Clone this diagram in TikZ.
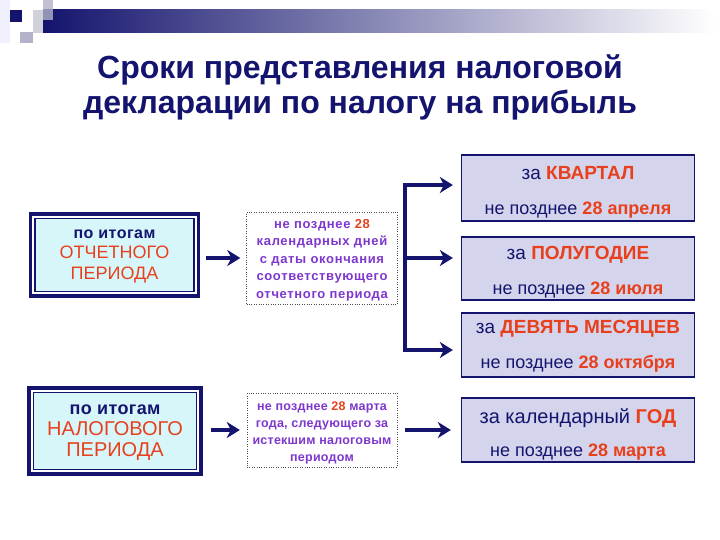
\documentclass[tikz,border=0pt]{standalone}
\usepackage{fontspec}
\setmainfont{Liberation Sans}
\usetikzlibrary{arrows.meta,calc}
\definecolor{navy}{RGB}{20,20,110}
\definecolor{hot}{RGB}{232,64,28}
\definecolor{purp}{RGB}{125,55,205}
\definecolor{cyanfill}{RGB}{215,246,250}
\definecolor{lav}{RGB}{212,212,236}
\tikzset{
  thickarrow/.style={line width=4pt, draw=navy, -{Stealth[length=13pt,width=16pt,inset=4pt]}},
  outerbox/.style={draw=navy, line width=3.5pt, fill=white, inner sep=0pt},
  innerbox/.style={draw=navy, line width=1.5pt, fill=cyanfill, inner sep=0pt},
  dotbox/.style={draw=black!70, dotted, fill=white, inner sep=0pt, minimum width=151pt},
  dottext/.style={align=center, text=purp, inner sep=0pt},
  lavbox/.style={draw=navy, line width=1.3pt, fill=lav, inner sep=0pt, minimum width=233pt},
  lavtext/.style={align=center, text=navy, inner sep=0pt, font=\fontsize{18}{20}\selectfont},
  boxtext/.style={align=center, text=navy}
}
\begin{document}
\begin{tikzpicture}[x=1pt,y=-1pt]
\useasboundingbox (0,0) rectangle (720,540);
\fill[white] (0,0) rectangle (720,540);
% top decoration
\fill[black!4!blue!6] (0,0) rectangle (10,43);
\shade[left color=navy, right color=white] (43,10) rectangle (715,33);
\fill[navy] (10,10) rectangle (22,22);
\fill[blue!20!black!18] (33,10) rectangle (43,33);
\fill[blue!25!black!30,opacity=0.8] (43,0) rectangle (53,20);
\fill[blue!30!black!30] (20,32) rectangle (33,43);
% title
\node[text=navy, font=\fontsize{32}{35}\selectfont\bfseries, align=center] (title) at (360,87) {Сроки представления налоговой\\декларации по налогу на прибыль};
% box A
\node[outerbox, minimum width=168pt, minimum height=82pt] (a) at (114.5,255) {};
\node[innerbox, minimum width=159pt, minimum height=73pt] (ai) at (a.center) {};
\node[boxtext, font=\fontsize{18}{20.5}\selectfont] (at) at (114.5,256) {{\fontsize{16}{20}\selectfont\bfseries\addfontfeature{LetterSpace=3}по итогам}\\{\color{hot}ОТЧЕТНОГО}\\{\color{hot}ПЕРИОДА}};
% box B
\node[dotbox, minimum height=92pt] (b) at (322,258) {};
\node[dottext, font=\fontsize{13}{17.5}\selectfont\bfseries\addfontfeature{LetterSpace=5}] (bt) at ($(b.center)+(0,2)$) {не позднее {\color{hot}28}\\календарных дней\\с даты окончания\\соответствующего\\отчетного периода};
\draw[thickarrow, shorten <=6pt, shorten >=6pt] (a.east |- 0,258) -- (b.west |- 0,258);
% right boxes
\node[lavbox, minimum height=66pt] (r1) at (578,188) {};
\node[lavtext] (r1t) at ($(r1.center)+(0,4)$) {{\fontsize{19}{20}\selectfont за {\bfseries\color{hot}КВАРТАЛ}}\\[15pt]не позднее {\bfseries\color{hot}28 апреля}};
\node[lavbox, minimum height=63pt] (r2) at (578,268.5) {};
\node[lavtext] (r2t) at ($(r2.center)+(0,4)$) {{\fontsize{19}{20}\selectfont за {\bfseries\color{hot}ПОЛУГОДИЕ}}\\[15pt]не позднее {\bfseries\color{hot}28 июля}};
\node[lavbox, minimum height=64pt] (r3) at (578,345) {};
\node[lavtext] (r3t) at ($(r3.center)+(0,1.5)$) {{\fontsize{19}{20}\selectfont за {\bfseries\color{hot}ДЕВЯТЬ МЕСЯЦЕВ}}\\[15pt]не позднее {\bfseries\color{hot}28 октября}};
% bracket
\coordinate (j1) at (405,185);
\coordinate (j2) at (405,258);
\coordinate (j3) at (405,350);
\draw[line width=4pt, draw=navy, line cap=rect] (j1) -- (j3);
\draw[thickarrow, shorten >=8pt] (j1) -- (r1.west |- j1);
\draw[thickarrow, shorten >=8pt] (j2) -- (r2.west |- j2);
\draw[thickarrow, shorten >=8pt] (j3) -- (r3.west |- j3);
% box C
\node[outerbox, minimum width=172pt, minimum height=86pt] (c) at (115,431) {};
\node[innerbox, minimum width=163pt, minimum height=77pt] (ci) at (c.center) {};
\node[boxtext, font=\fontsize{20}{21}\selectfont] (ct) at (115,433) {{\fontsize{18}{21}\selectfont\bfseries\addfontfeature{LetterSpace=2}по итогам}\\{\color{hot}НАЛОГОВОГО}\\{\color{hot}ПЕРИОДА}};
% box D
\node[dotbox, minimum width=150pt, minimum height=74pt] (d) at (322,430) {};
\node[dottext, font=\fontsize{12.5}{17}\selectfont\bfseries\addfontfeature{LetterSpace=2}] (dt) at ($(d.center)+(0,3)$) {не позднее {\color{hot}28} марта\\года, следующего за\\истекшим налоговым\\периодом};
\draw[thickarrow, shorten <=8pt, shorten >=7pt] (c.east |- d.west) -- (d.west);
% box R4
\node[lavbox, minimum height=64pt] (r4) at (578,430) {};
\node[lavtext] (r4t) at ($(r4.center)+(0,4)$) {{\fontsize{20}{20}\selectfont за календарный {\bfseries\color{hot}ГОД}}\\[13pt]не позднее {\bfseries\color{hot}28 марта}};
\draw[thickarrow, shorten <=8pt, shorten >=10pt] (d.east) -- (r4.west |- d.east);
\end{tikzpicture}
\end{document}
